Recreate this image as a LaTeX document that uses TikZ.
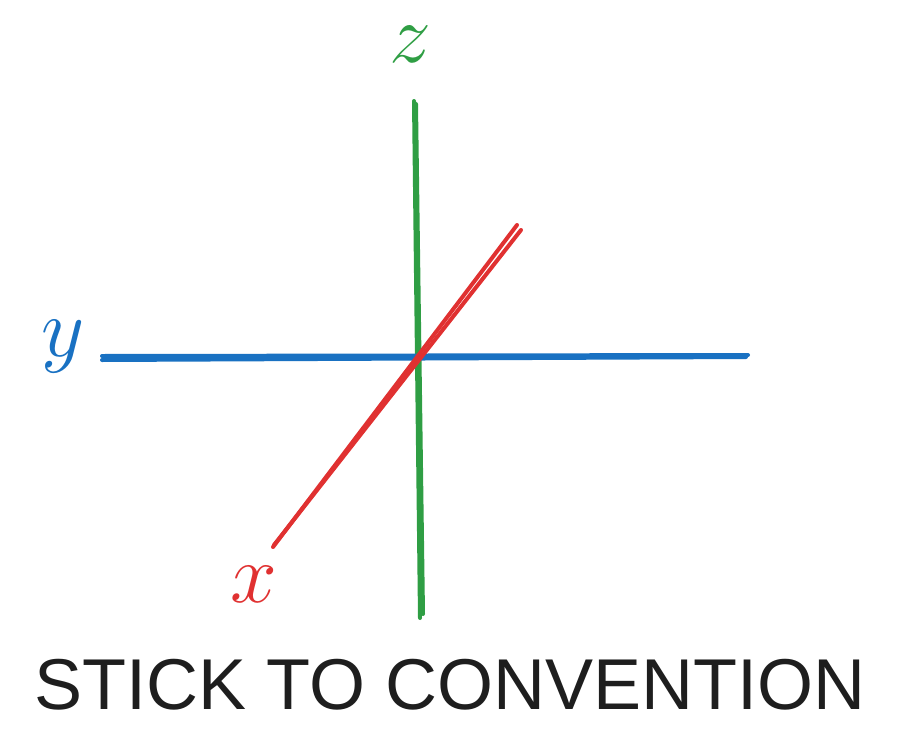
\RequirePackage{fix-cm}
\documentclass[tikz,border=0pt]{standalone}
\usepackage{fontspec}
\newfontfamily\captionfont{Liberation Sans}
\definecolor{axgreen}{HTML}{2F9E44}
\definecolor{axred}{HTML}{E03131}
\definecolor{axblue}{HTML}{1971C2}
\definecolor{inkdark}{HTML}{1E1E1E}
\tikzset{
  stroke/.style={line width=4pt, line cap=round},
  axlabel/.style={anchor=base, inner sep=0pt, font=\fontsize{84}{90}\selectfont},
}
\begin{document}
\begin{tikzpicture}[x=1pt,y=-1pt]
\useasboundingbox (0,0) rectangle (908,739);
% green z axis
\coordinate (zt1) at (414,101); \coordinate (zb1) at (420,618);
\coordinate (zt2) at (416,104); \coordinate (zb2) at (423,614);
\draw[stroke, axgreen] (zt1) -- (zb1);
\draw[stroke, axgreen] (zt2) -- (zb2);
% blue y axis
\coordinate (yl1) at (102,356); \coordinate (yr1) at (748,355);
\coordinate (yl2) at (102,360); \coordinate (yr2) at (746,357);
\draw[stroke, axblue] (yl1) -- (yr1);
\draw[stroke, axblue] (yl2) -- (yr2);
% red x axis
\coordinate (xt1) at (517,225); \coordinate (xb1) at (273,547);
\coordinate (xt2) at (521,230); \coordinate (xb2) at (274,545);
\draw[stroke, axred] (xt1) -- (xb1);
\draw[stroke, axred] (xt2) -- (xb2);
% labels
\node[axlabel, text=axgreen] (zlab) at (410,62) {$z$};
\node[axlabel, text=axblue] (ylab) at (63,356) {$y$};
\node[axlabel, text=axred] (xlab) at (254,602) {$x$};
\node[anchor=base, inner sep=0pt, text=inkdark, font=\captionfont\fontsize{72}{80}\selectfont] (caption) at (450,709) {STICK TO CONVENTION};
\end{tikzpicture}
\end{document}
